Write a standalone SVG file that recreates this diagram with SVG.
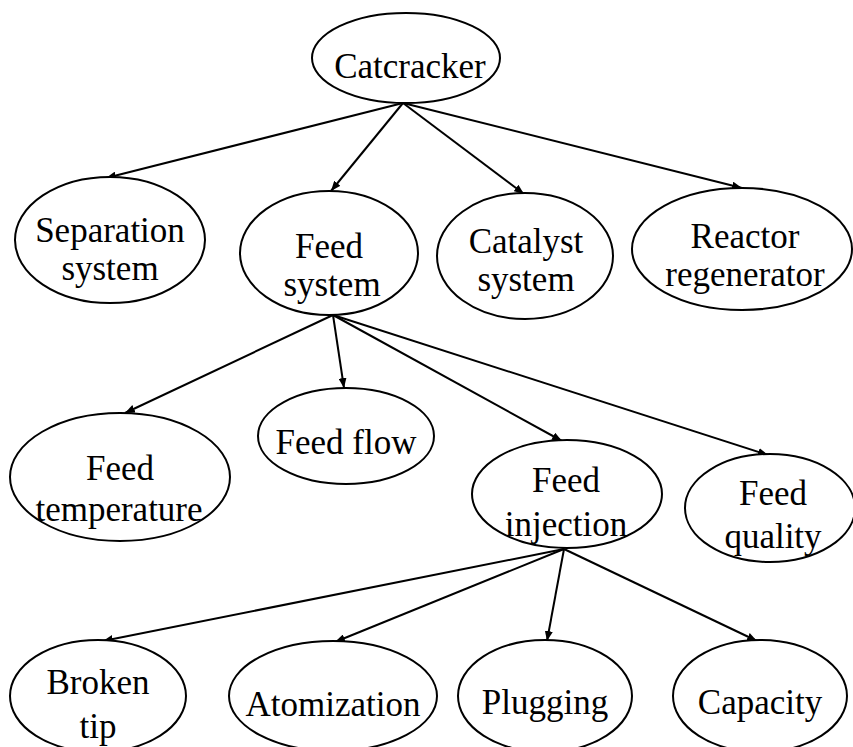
<svg xmlns="http://www.w3.org/2000/svg" width="853" height="747" viewBox="0 0 853 747">
<style>
ellipse{fill:#fff;stroke:#000;stroke-width:2}
text{font-family:"Liberation Serif","Times New Roman",serif;font-size:35px;fill:#000;text-anchor:middle}
.c line{stroke:#000;stroke-width:2;marker-end:url(#a)}
</style>
<defs>
<marker id="a" viewBox="0 0 10 8" refX="10" refY="4" markerWidth="10" markerHeight="8" markerUnits="userSpaceOnUse" orient="auto">
<path d="M0,0 L10,4 L0,8 Z" fill="#000"/>
</marker>
</defs>
<rect width="853" height="747" fill="#fff"/>
<g class="c" id="connectors">
<line x1="403" y1="103" x2="106" y2="178"/>
<line x1="403" y1="103" x2="331" y2="191"/>
<line x1="403" y1="103" x2="524" y2="194"/>
<line x1="403" y1="103" x2="742" y2="188"/>
<line x1="333" y1="315" x2="125" y2="413"/>
<line x1="333" y1="315" x2="344" y2="388"/>
<line x1="333" y1="315" x2="562" y2="441"/>
<line x1="333" y1="315" x2="768" y2="455"/>
<line x1="564" y1="549" x2="103" y2="641"/>
<line x1="564" y1="549" x2="335" y2="642"/>
<line x1="564" y1="549" x2="547" y2="641"/>
<line x1="564" y1="549" x2="757" y2="641"/>
</g>
<g id="catcracker"><ellipse cx="406" cy="58" rx="94" ry="45"/><text x="410" y="78">Catcracker</text></g>
<g id="separation"><ellipse cx="110" cy="240" rx="95" ry="63"/><text x="110" y="242">Separation</text><text x="110" y="280">system</text></g>
<g id="feedsystem"><ellipse cx="329" cy="253" rx="89" ry="62"/><text x="329" y="258">Feed</text><text x="332" y="296">system</text></g>
<g id="catalyst"><ellipse cx="525" cy="256" rx="88" ry="63"/><text x="526" y="253">Catalyst</text><text x="526" y="291">system</text></g>
<g id="reactor"><ellipse cx="742" cy="249" rx="110" ry="61"/><text x="745" y="248">Reactor</text><text x="745" y="286">regenerator</text></g>
<g id="feedtemp"><ellipse cx="120" cy="477" rx="110" ry="64"/><text x="120" y="480">Feed</text><text x="119" y="521">temperature</text></g>
<g id="feedflow"><ellipse cx="346" cy="436" rx="88" ry="48"/><text x="346" y="454">Feed flow</text></g>
<g id="feedinjection"><ellipse cx="567" cy="494" rx="95" ry="54"/><text x="566" y="492">Feed</text><text x="566" y="536">injection</text></g>
<g id="feedquality"><ellipse cx="770" cy="508" rx="85" ry="54"/><text x="773" y="505">Feed</text><text x="773" y="548">quality</text></g>
<g id="brokentip"><ellipse cx="98" cy="696" rx="88" ry="56"/><text x="98" y="694">Broken</text><text x="98" y="738">tip</text></g>
<g id="atomization"><ellipse cx="333" cy="696" rx="104" ry="55"/><text x="333" y="716">Atomization</text></g>
<g id="plugging"><ellipse cx="545" cy="696" rx="87" ry="56"/><text x="545" y="714">Plugging</text></g>
<g id="capacity"><ellipse cx="760" cy="696" rx="87" ry="56"/><text x="760" y="714">Capacity</text></g>
</svg>
